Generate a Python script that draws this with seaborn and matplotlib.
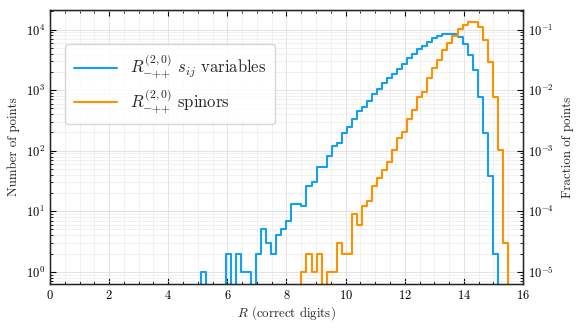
import numpy as np
import seaborn as sns
import matplotlib.pyplot as plt
from matplotlib.ticker import MultipleLocator, LogLocator, NullFormatter

# bins shared by both histograms (first edge and width)
first_edge = 5.10
bin_width = 0.1703
n_points = 100000

# counts per bin
blue_counts = [1, 0, 0, 0, 0, 2, 0, 2, 1, 1,
               0, 2, 5, 3, 2, 4, 5, 7, 13, 13,
               12, 26, 30, 53, 53, 82, 120, 136, 198, 249,
               338, 444, 532, 673, 855, 1050, 1300, 1570, 1850, 2210,
               2670, 3360, 3960, 4730, 5420, 6310, 7180, 7830, 8500, 8500,
               8300, 7470, 5720, 3800, 2150, 764, 195, 38, 2, 0,
               0]
orange_counts = [0, 0, 0, 0, 0, 0, 0, 0, 0, 0,
                 0, 0, 0, 0, 0, 0, 0, 0, 0, 0,
                 1, 2, 1, 2, 0, 1, 1, 3, 2, 2,
                 9, 6, 12, 15, 26, 36, 48, 66, 103, 161,
                 207, 330, 471, 782, 923, 1570, 2290, 3150, 4550, 6000,
                 7900, 10100, 11900, 13500, 13300, 10800, 6800, 2900, 764, 103,
                 3]

label_blue = r"$R^{(2,0)}_{{-}{+}{+}}$ $s_{ij}$ variables"
label_orange = r"$R^{(2,0)}_{{-}{+}{+}}$ spinors"
color_blue = "#14a0ef"
color_orange = "#ff9000"

sns.set_style("ticks")
plt.rcParams["font.family"] = "serif"
plt.rcParams["font.serif"] = ["cmr10", "DejaVu Serif"]
plt.rcParams["mathtext.fontset"] = "cm"
plt.rcParams["axes.formatter.use_mathtext"] = True
plt.rcParams["axes.unicode_minus"] = False

# one empty bin on each side so the outline drops back to the baseline
nb = len(blue_counts)
edges = first_edge + bin_width * np.arange(-1, nb + 2)
centers = (edges[:-1] + edges[1:]) / 2
blue_w = np.concatenate([[0], blue_counts, [0]])
orange_w = np.concatenate([[0], orange_counts, [0]])

fig = plt.figure(figsize=(5.82, 3.29), dpi=100)
ax = fig.add_axes([0.0859, 0.1368, 0.8127, 0.8328])

sns.histplot(x=centers, weights=blue_w, bins=edges.tolist(), element="step", fill=False,
             color=color_blue, linewidth=1.5, ax=ax, label=label_blue)
sns.histplot(x=centers, weights=orange_w, bins=edges.tolist(), element="step", fill=False,
             color=color_orange, linewidth=1.5, ax=ax, label=label_orange)

ax.set_yscale("log")
ylo, yhi = 0.63, 21000
ax.set_ylim(ylo, yhi)
ax.set_xlim(0, 16)
ax.xaxis.set_major_locator(MultipleLocator(2))
ax.xaxis.set_minor_locator(MultipleLocator(0.5))
ax.yaxis.set_major_locator(LogLocator(base=10, numticks=10))
ax.yaxis.set_minor_locator(LogLocator(base=10, subs=np.arange(2, 10), numticks=20))
ax.yaxis.set_minor_formatter(NullFormatter())

ax.grid(True, which="major", color="#dedede", linewidth=0.6)
ax.grid(True, which="minor", color="#ececec", linewidth=0.5)
ax.set_axisbelow(True)

ax.tick_params(which="both", direction="in", top=True, right=False, labelsize=9, colors="black")
ax.tick_params(which="major", length=4, width=0.8)
ax.tick_params(which="minor", length=2, width=0.6)
for s in ax.spines.values():
    s.set_color("black")
    s.set_linewidth(1.0)

ax.set_xlabel(r"$R$ (correct digits)", fontsize=9.3, labelpad=2)
ax.set_ylabel("Number of points", fontsize=9.3, labelpad=4)

ax2 = ax.twinx()
ax2.set_yscale("log")
ax2.set_ylim(ylo / n_points, yhi / n_points)
ax2.yaxis.set_major_locator(LogLocator(base=10, numticks=10))
ax2.yaxis.set_minor_locator(LogLocator(base=10, subs=np.arange(2, 10), numticks=20))
ax2.yaxis.set_minor_formatter(NullFormatter())
ax2.tick_params(which="both", direction="in", labelsize=9, colors="black")
ax2.tick_params(which="major", length=4, width=0.8)
ax2.tick_params(which="minor", length=2, width=0.6)
ax2.set_ylabel("Fraction of points", fontsize=9.3, labelpad=6)

ax.legend(loc="upper left", bbox_to_anchor=(0.015, 0.905), fontsize=12,
          handlelength=2.6, frameon=True, fancybox=True, framealpha=0.8,
          edgecolor="#cccccc", borderpad=0.5, labelspacing=0.4)

fig.savefig("out.png", dpi=100)
